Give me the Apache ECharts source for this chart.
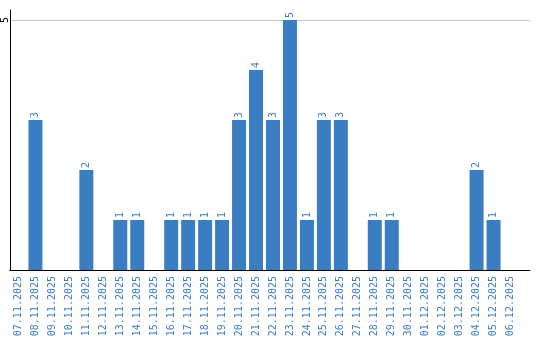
<!DOCTYPE html>
<html>
<head>
<meta charset="utf-8">
<script src="https://cdn.jsdelivr.net/npm/echarts@6/dist/echarts.min.js"></script>
<style>html,body{margin:0;padding:0;background:#fff}#c{width:540px;height:340px}</style>
</head>
<body>
<div id="c"></div>
<script>
const categories = ["07.11.2025","08.11.2025","09.11.2025","10.11.2025","11.11.2025","12.11.2025","13.11.2025","14.11.2025","15.11.2025","16.11.2025","17.11.2025","18.11.2025","19.11.2025","20.11.2025","21.11.2025","22.11.2025","23.11.2025","24.11.2025","25.11.2025","26.11.2025","27.11.2025","28.11.2025","29.11.2025","30.11.2025","01.12.2025","02.12.2025","03.12.2025","04.12.2025","05.12.2025","06.12.2025"];
const values = [0,3,0,0,2,0,1,1,0,1,1,1,1,3,4,3,5,1,3,3,0,1,1,0,0,0,0,2,1,0];
const yTicks = [0,5];

const BLUE = '#3b7dc3';
const FONT = 'DejaVu Sans Mono';
const chart = echarts.init(document.getElementById('c'), null, {renderer:'canvas'});
chart.setOption({
  animation:false,
  grid:[
    {left:10, width:509, top:10, bottom:70, outerBoundsMode:'none', containLabel:false},
    {left:10, right:10, top:10, bottom:70, outerBoundsMode:'none', containLabel:false}
  ],
  xAxis:[
    {type:'category', gridIndex:0, data:categories,
     axisLine:{show:true, lineStyle:{color:'#000', width:1}},
     axisTick:{show:false},
     axisLabel:{rotate:90, interval:0, color:BLUE, fontSize:10, fontFamily:FONT, margin:6}},
    {type:'value', gridIndex:1, min:0, max:1,
     axisLine:{show:true, onZero:false, lineStyle:{color:'#000', width:1}},
     axisTick:{show:false}, axisLabel:{show:false}, splitLine:{show:false}}
  ],
  yAxis:[
    {type:'value', gridIndex:0, min:yTicks[0], max:5.2, interval:yTicks[1]-yTicks[0],
     axisLine:{show:true, lineStyle:{color:'#000', width:1}},
     axisTick:{show:false}, splitLine:{show:false},
     axisLabel:{rotate:90, align:'center', verticalAlign:'middle', color:'#000', fontSize:10, fontFamily:FONT, margin:5, showMaxLabel:false, showMinLabel:false}},
    {type:'value', gridIndex:1, min:yTicks[0], max:5.2, interval:yTicks[1]-yTicks[0],
     axisLine:{show:false}, axisTick:{show:false}, axisLabel:{show:false},
     splitLine:{show:true, showMinLine:false, showMaxLine:false, lineStyle:{color:'#c8c8c8', width:1}}}
  ],
  series:[{
    type:'bar', xAxisIndex:0, yAxisIndex:0,
    data:values.map(v => v === 0 ? null : v),
    barWidth:14,
    itemStyle:{color:BLUE},
    label:{show:true, position:'top', rotate:90, align:'left', verticalAlign:'middle', distance:2,
      color:BLUE, fontSize:10, fontFamily:FONT}
  }]
});
</script>
</body>
</html>
